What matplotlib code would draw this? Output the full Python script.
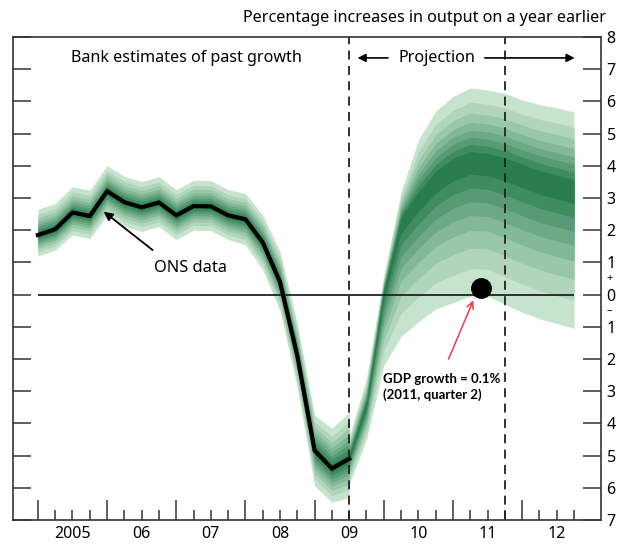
#!/usr/bin/env python3
import matplotlib.pyplot as plt
import numpy as np
from matplotlib.colors import LinearSegmentedColormap

plt.rcParams['font.family'] = ['Noto Sans', 'DejaVu Sans']

# ONS data (quarterly, first point at 2005.0 on the axis)
ons_x = 2005.0 + 0.25 * np.arange(19)
ons = [1.85, 2.03, 2.55, 2.44, 3.21, 2.87, 2.71, 2.86, 2.46, 2.75,
       2.74, 2.46, 2.34, 1.62, 0.39, -1.9, -4.84, -5.4, -5.1]
# spread of the backcast fan above/below the ONS line
past_up = [0.8, 0.8, 0.8, 0.8, 0.8, 0.8, 0.8, 0.8, 0.8, 0.8,
           0.8, 0.8, 0.8, 0.85, 0.95, 1.0, 1.1, 1.25, 1.45]
past_dn = [0.65, 0.65, 0.7, 0.7, 0.75, 0.75, 0.75, 0.75, 0.75, 0.75,
           0.75, 0.75, 0.8, 0.85, 0.9, 1.0, 1.1, 1.05, 1.2]

# projection fan (quarterly from 2009.5)
proj_x = 2009.5 + 0.25 * np.arange(14)
proj_mid = [-5.05, -3.4, 0.1, 2.3, 3.0, 3.6, 4.0, 4.2, 4.15, 4.0, 3.8, 3.6, 3.45, 3.3]
proj_hi = [-4.4, -2.6, 0.6, 3.2, 4.8, 5.7, 6.15, 6.42, 6.35, 6.25, 6.05, 5.9, 5.8, 5.67]
proj_lo = [-5.9, -4.5, -2.2, -1.3, -0.85, -0.45, -0.25, -0.05, -0.05, -0.3,
           -0.55, -0.75, -0.9, -1.05]

gdp_x, gdp_y = 2011.4, 0.2

years = [2005, 2006, 2007, 2008, 2009, 2010, 2011, 2012]
year_labels = ['2005', '06', '07', '08', '09', '10', '11', '12']

levels = [1.0, 0.8, 0.65, 0.52, 0.41, 0.31, 0.21, 0.11]
cmap = LinearSegmentedColormap.from_list('fan', ['#c6e4cd', '#2a7d4f'])
shades = cmap(np.linspace(0, 1, len(levels)))

fig = plt.figure(figsize=(6.2, 5.51), dpi=100)
ax = fig.add_axes([13 / 620, 31 / 551, 588 / 620, 483 / 551])

ons_a = np.array(ons)
pu, pd_ = np.array(past_up), np.array(past_dn)
pm, ph, pl = np.array(proj_mid), np.array(proj_hi), np.array(proj_lo)
for f, c in zip(levels, shades):
    ax.fill_between(ons_x, ons_a - pd_ * f, ons_a + pu * f, color=c, lw=0)
    ax.fill_between(proj_x, pm - (pm - pl) * f, pm + (ph - pm) * f, color=c, lw=0)

ax.hlines(0, 2005.0, 2012.75, color='#222222', lw=1.3)
ax.plot(ons_x, ons, color='black', lw=3, solid_joinstyle='miter')

for xv in [2009.5, 2011.75]:
    ax.axvline(xv, color='#222222', lw=1.3, ls=(0, (5, 3.5)))

ax.plot(gdp_x, gdp_y, 'o', color='black', ms=14)

ax.set_xlim(2004.64, 2013.14)
ax.set_ylim(-7, 8)

# ticks
ax.set_yticks(range(-7, 9))
ax.set_yticklabels([str(abs(v)) for v in range(-7, 9)], fontsize=11.5)
ax.yaxis.set_ticks_position('both')
ax.tick_params(axis='y', which='both', direction='in', length=13, width=1.1,
               color='#333333', labelleft=False, labelright=True, pad=4)
ax.set_xticks(years)
ax.set_xticks([y + q for y in years for q in (0.25, 0.5, 0.75)], minor=True)
ax.tick_params(axis='x', which='major', direction='in', length=14.5, width=1.1,
               color='#333333', labelbottom=False)
ax.tick_params(axis='x', which='minor', direction='in', length=7, width=1.1,
               color='#333333')
for sp in ax.spines.values():
    sp.set_linewidth(1.2)
    sp.set_color('#333333')

for y, lab in zip(years, year_labels):
    ax.annotate(lab, (y + 0.5, -7), xytext=(0, -4), textcoords='offset points',
                ha='center', va='top', fontsize=11.5)

ax.annotate('+', (1, 0.5), xycoords=('axes fraction', 'data'), xytext=(4, 0),
            textcoords='offset points', ha='left', va='center', fontsize=8)
ax.annotate('\u2013', (1, -0.5), xycoords=('axes fraction', 'data'), xytext=(4, 0),
            textcoords='offset points', ha='left', va='center', fontsize=8)

# text
fig.text(606 / 620, 1 - 18 / 551, 'Percentage increases in output on a year earlier',
         ha='right', va='center', fontsize=11.6)
ax.text(2007.14, 7.35, 'Bank estimates of past growth', ha='center', va='center',
        fontsize=11.6)
ax.text(2010.77, 7.35, 'Projection', ha='center', va='center', fontsize=11.6)
ax.annotate('', xy=(2009.58, 7.35), xytext=(2010.1, 7.35),
            arrowprops=dict(arrowstyle='-|>', color='black', lw=1.2, mutation_scale=12))
ax.annotate('', xy=(2012.8, 7.35), xytext=(2011.42, 7.35),
            arrowprops=dict(arrowstyle='-|>', color='black', lw=1.2, mutation_scale=12))

ax.text(2007.2, 0.83, 'ONS data', ha='center', va='center', fontsize=11.8)
ax.annotate('', xy=(2005.92, 2.63), xytext=(2006.69, 1.33),
            arrowprops=dict(arrowstyle='-|>', color='black', lw=1.3, mutation_scale=13))

ax.text(2009.99, -2.45, 'GDP growth = 0.1%\n(2011, quarter 2)', ha='left', va='top',
        fontsize=9.5, fontweight='bold', family=['Lato', 'DejaVu Sans'], linespacing=1.25)
ax.annotate('', xy=(2011.31, -0.1), xytext=(2010.92, -2.08),
            arrowprops=dict(arrowstyle='->', color='#ee3b4e', lw=1.1, mutation_scale=12))

fig.savefig('out.png', dpi=100)
